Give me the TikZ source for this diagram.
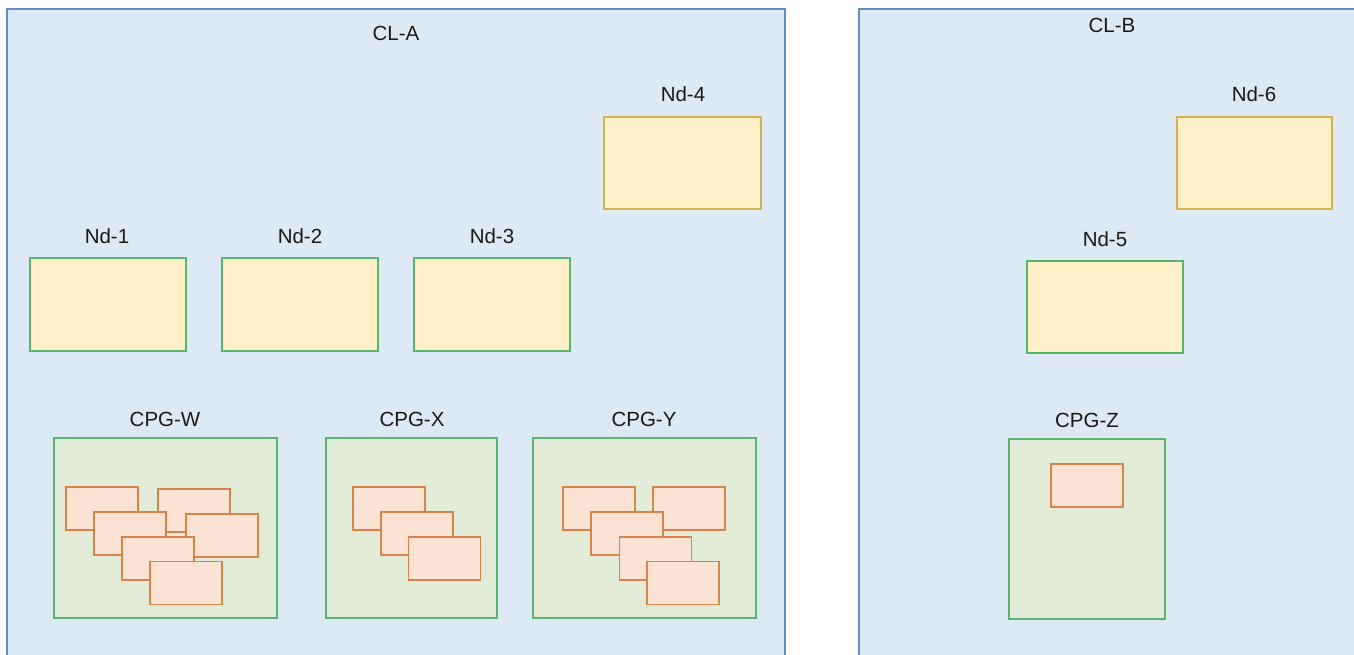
\documentclass[tikz,border=0pt]{standalone}
\usepackage{fontspec}
\setmainfont{Liberation Sans}
\definecolor{clfill}{HTML}{DDE9F5}
\definecolor{cldraw}{HTML}{5F8FC4}
\definecolor{ndfill}{HTML}{FFF0CA}
\definecolor{nddrawy}{HTML}{D4B250}
\definecolor{nddrawg}{HTML}{57B56A}
\definecolor{cpgfill}{HTML}{E1EBD8}
\definecolor{cpgdraw}{HTML}{5AB56E}
\definecolor{pfill}{HTML}{FAE2D4}
\definecolor{pdraw}{HTML}{D7834A}
\definecolor{txt}{HTML}{1A1A1A}
\tikzset{
  cl/.style={draw=cldraw, fill=clfill, line width=1.3pt, inner sep=0pt},
  ndg/.style={draw=nddrawg, fill=ndfill, line width=1.3pt, inner sep=0pt, minimum width=156, minimum height=93},
  ndy/.style={draw=nddrawy, fill=ndfill, line width=1.3pt, inner sep=0pt, minimum width=156, minimum height=92},
  cpg/.style={draw=cpgdraw, fill=cpgfill, line width=1.4pt, inner sep=0pt, minimum height=180},
  pod/.style={draw=pdraw, fill=pfill, line width=1.4pt, inner sep=0pt, minimum width=72, minimum height=43},
  lbl/.style={inner sep=0pt, text=txt, font=\fontsize{20.5}{24}\selectfont}
}
\begin{document}
\begin{tikzpicture}[x=1pt,y=-1pt]
\useasboundingbox (0,0) rectangle (1354,654);
\clip (0,0) rectangle (1354,654);
\fill[white] (0,0) rectangle (1354,654);
% clusters
\node[cl, minimum width=778, minimum height=661] (clA) at (396,339.5) {};
\node[cl, minimum width=511, minimum height=661] (clB) at (1114.5,339.5) {};
\node[lbl] (clAt) at (396,33) {CL-A};
\node[lbl] (clBt) at (1112,25) {CL-B};
% nodes
\node[ndg] (nd1) at (108,304.5) {};
\node[ndg] (nd2) at (300,304.5) {};
\node[ndg] (nd3) at (492,304.5) {};
\node[ndy, minimum width=157] (nd4) at (682.5,163) {};
\node[ndg, minimum height=92] (nd5) at (1105,307) {};
\node[ndy, minimum width=155] (nd6) at (1254.5,163) {};
\node[lbl] (nd1t) at (107,236) {Nd-1};
\node[lbl] (nd2t) at (300,236) {Nd-2};
\node[lbl] (nd3t) at (492,236) {Nd-3};
\node[lbl] (nd4t) at (683,94) {Nd-4};
\node[lbl] (nd5t) at (1105,239) {Nd-5};
\node[lbl] (nd6t) at (1254,94) {Nd-6};
% CPGs
\node[cpg, minimum width=223] (cpgW) at (165.5,528) {};
\node[cpg, minimum width=171] (cpgX) at (411.5,528) {};
\node[cpg, minimum width=223] (cpgY) at (644.5,528) {};
\node[cpg, minimum width=156] (cpgZ) at (1087,529) {};
\node[lbl] (cpgWt) at (165,419) {CPG-W};
\node[lbl] (cpgXt) at (412,419) {CPG-X};
\node[lbl] (cpgYt) at (644,419) {CPG-Y};
\node[lbl] (cpgZt) at (1087,420) {CPG-Z};
% pods W
\node[pod] (w1) at (102,508.5) {};
\node[pod] (w2) at (194,510.5) {};
\node[pod] (w3) at (130,533.5) {};
\node[pod] (w4) at (222,535.5) {};
\node[pod] (w5) at (158,558.5) {};
\node[pod] (w6) at (186,583) {};
% pods X
\node[pod] (x1) at (389,508.5) {};
\node[pod] (x2) at (417,533.5) {};
\node[pod] (x3) at (444.5,558.5) {};
% pods Y
\node[pod] (y1) at (599,508.5) {};
\node[pod] (y2) at (689,508.5) {};
\node[pod] (y3) at (627,533.5) {};
\node[pod] (y4) at (655.5,558.5) {};
\node[pod] (y5) at (683,583) {};
% pod Z
\node[pod] (z1) at (1087,485.5) {};
\end{tikzpicture}
\end{document}
